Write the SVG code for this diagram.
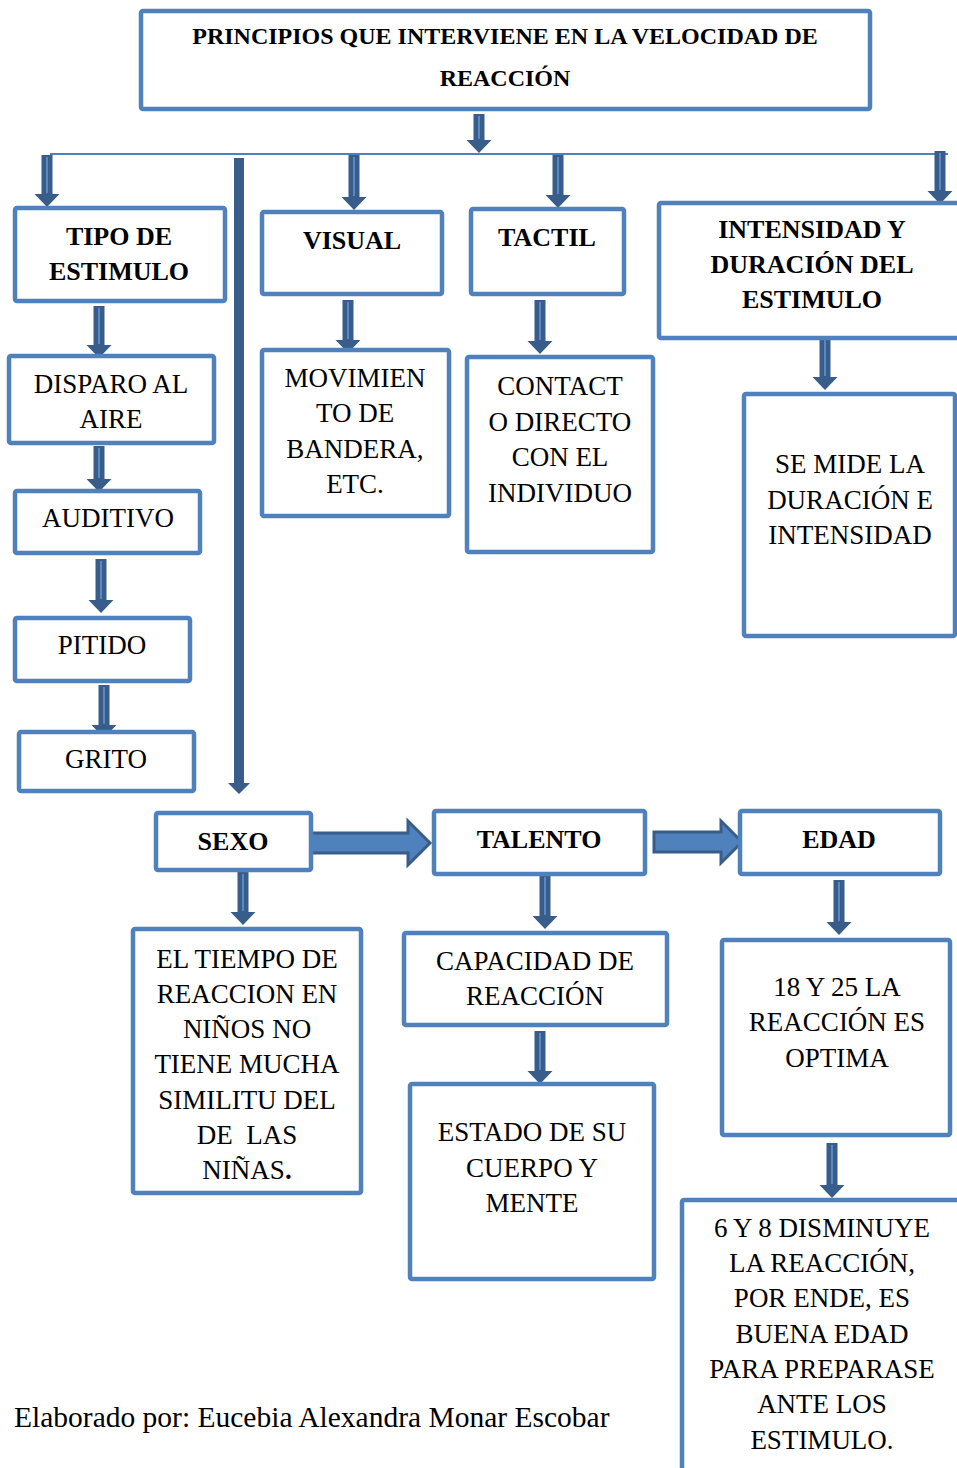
<svg xmlns="http://www.w3.org/2000/svg" width="957" height="1468" viewBox="0 0 957 1468">
<style>
.box{fill:#fff;stroke:#4F81BD;stroke-width:4.5;}
.t{font-family:"Liberation Serif","Times New Roman",serif;font-size:27px;fill:#000;text-anchor:middle;}
.b{font-weight:bold;font-size:26px;}
.da{fill:#385D8A;}
.st{stroke:#5A88C2;stroke-width:2;fill:none;}
.ha{fill:#4F81BD;stroke:#385D8A;stroke-width:3;stroke-linejoin:miter;}
</style>
<rect width="957" height="1468" fill="#fff"/>
<g id="connectors">
<line x1="50" y1="154" x2="948" y2="154" stroke="#4F81BD" stroke-width="2"/>
<path class="da" d="M473.5,114 h11 v26 h7 l-12.5,13 l-12.5,-13 h7 z"/><path class="st" d="M479,116 v23"/>
<path class="da" d="M41.5,155 h11 v39 h7 l-12.5,13 l-12.5,-13 h7 z"/><path class="st" d="M47,157 v36"/>
<path class="da" d="M348.5,155 h11 v42 h7 l-12.5,13 l-12.5,-13 h7 z"/><path class="st" d="M354,157 v39"/>
<path class="da" d="M552.5,155 h11 v40 h7 l-12.5,13 l-12.5,-13 h7 z"/><path class="st" d="M558,157 v37"/>
<path class="da" d="M934.5,151 h11 v40 h7 l-12.5,13 l-12.5,-13 h7 z"/><path class="st" d="M940,153 v37"/>
<path class="da" d="M93.5,306 h11 v39 h7 l-12.5,13 l-12.5,-13 h7 z"/><path class="st" d="M99,308 v36"/>
<path class="da" d="M93.5,446 h11 v33 h7 l-12.5,13 l-12.5,-13 h7 z"/><path class="st" d="M99,448 v30"/>
<path class="da" d="M95.5,559 h11 v41 h7 l-12.5,13 l-12.5,-13 h7 z"/><path class="st" d="M101,561 v38"/>
<path class="da" d="M98.5,685 h11 v40 h7 l-12.5,13 l-12.5,-13 h7 z"/><path class="st" d="M104,687 v37"/>
<path class="da" d="M342.5,300 h11 v40 h7 l-12.5,13 l-12.5,-13 h7 z"/><path class="st" d="M348,302 v37"/>
<path class="da" d="M534.5,300 h11 v41 h7 l-12.5,13 l-12.5,-13 h7 z"/><path class="st" d="M540,302 v38"/>
<path class="da" d="M819.5,338 h11 v39 h7 l-12.5,13 l-12.5,-13 h7 z"/><path class="st" d="M825,340 v36"/>
<path class="da" d="M237.5,872 h11 v40 h7 l-12.5,13 l-12.5,-13 h7 z"/><path class="st" d="M243,874 v37"/>
<path class="da" d="M539.5,875 h11 v41 h7 l-12.5,13 l-12.5,-13 h7 z"/><path class="st" d="M545,877 v38"/>
<path class="da" d="M534.5,1031 h11 v40 h7 l-12.5,13 l-12.5,-13 h7 z"/><path class="st" d="M540,1033 v37"/>
<path class="da" d="M833.5,880 h11 v42 h7 l-12.5,13 l-12.5,-13 h7 z"/><path class="st" d="M839,882 v39"/>
<path class="da" d="M826.5,1143 h11 v42 h7 l-12.5,13 l-12.5,-13 h7 z"/><path class="st" d="M832,1145 v39"/>
<path class="da" d="M234,158 h10 v625 h6 l-11,11 l-11,-11 h6 z"/>
<path class="ha" d="M311,833 H408 V821 L430,843 L408,865 V853 H311 Z"/>
<path class="ha" d="M654,832 H721 V821 L742,842 L721,863 V852 H654 Z"/>
</g>
<g id="title"><rect class="box" x="141" y="11" width="729" height="98" rx="2"/>
<text class="t b" x="505" y="44" style="font-size:24px">PRINCIPIOS QUE INTERVIENE EN LA VELOCIDAD DE</text>
<text class="t b" x="505" y="86" style="font-size:24px">REACCIÓN</text></g>
<g id="tipo"><rect class="box" x="15" y="208" width="210" height="93" rx="2"/>
<text class="t b" x="119" y="245">TIPO DE</text><text class="t b" x="119" y="280">ESTIMULO</text></g>
<g id="visual"><rect class="box" x="262" y="212" width="180" height="82" rx="2"/>
<text class="t b" x="352" y="249">VISUAL</text></g>
<g id="tactil"><rect class="box" x="471" y="209" width="153" height="85" rx="2"/>
<text class="t b" x="547" y="246">TACTIL</text></g>
<g id="intensidad"><rect class="box" x="659" y="203" width="310" height="135" rx="2"/>
<text class="t b" x="812" y="238">INTENSIDAD Y</text><text class="t b" x="812" y="273">DURACIÓN DEL</text><text class="t b" x="812" y="308">ESTIMULO</text></g>
<g id="disparo"><rect class="box" x="9" y="356" width="205" height="87" rx="2"/>
<text class="t" x="111" y="393">DISPARO AL</text><text class="t" x="111" y="428">AIRE</text></g>
<g id="auditivo"><rect class="box" x="15" y="491" width="185" height="62" rx="2"/>
<text class="t" x="108" y="527">AUDITIVO</text></g>
<g id="pitido"><rect class="box" x="15" y="618" width="175" height="63" rx="2"/>
<text class="t" x="102" y="654">PITIDO</text></g>
<g id="grito"><rect class="box" x="19" y="732" width="175" height="59" rx="2"/>
<text class="t" x="106" y="768">GRITO</text></g>
<g id="movimiento"><rect class="box" x="262" y="350" width="187" height="166" rx="2"/>
<text class="t" x="355" y="387">MOVIMIEN</text><text class="t" x="355" y="422">TO DE</text><text class="t" x="355" y="458">BANDERA,</text><text class="t" x="355" y="493">ETC.</text></g>
<g id="contacto"><rect class="box" x="467" y="357" width="186" height="195" rx="2"/>
<text class="t" x="560" y="395">CONTACT</text><text class="t" x="560" y="431">O DIRECTO</text><text class="t" x="560" y="466">CON EL</text><text class="t" x="560" y="502">INDIVIDUO</text></g>
<g id="semide"><rect class="box" x="744" y="394" width="211" height="242" rx="2"/>
<text class="t" x="850" y="473">SE MIDE LA</text><text class="t" x="850" y="509">DURACIÓN E</text><text class="t" x="850" y="544">INTENSIDAD</text></g>
<g id="sexo"><rect class="box" x="156" y="813" width="155" height="57" rx="2"/>
<text class="t b" x="233" y="850">SEXO</text></g>
<g id="talento"><rect class="box" x="434" y="811" width="211" height="63" rx="2"/>
<text class="t b" x="539" y="848">TALENTO</text></g>
<g id="edad"><rect class="box" x="740" y="811" width="200" height="63" rx="2"/>
<text class="t b" x="839" y="848">EDAD</text></g>
<g id="tiempo"><rect class="box" x="133" y="929" width="228" height="264" rx="2"/>
<text class="t" x="247" y="968">EL TIEMPO DE</text><text class="t" x="247" y="1003">REACCION EN</text><text class="t" x="247" y="1038">NIÑOS NO</text><text class="t" x="247" y="1073">TIENE MUCHA</text><text class="t" x="247" y="1109">SIMILITU DEL</text><text class="t" x="247" y="1144" xml:space="preserve">DE  LAS</text><text class="t" x="247" y="1179">NIÑAS<tspan font-weight="bold">.</tspan></text></g>
<g id="capacidad"><rect class="box" x="404" y="933" width="263" height="92" rx="2"/>
<text class="t" x="535" y="970">CAPACIDAD DE</text><text class="t" x="535" y="1005">REACCIÓN</text></g>
<g id="estado"><rect class="box" x="410" y="1084" width="244" height="195" rx="2"/>
<text class="t" x="532" y="1141">ESTADO DE SU</text><text class="t" x="532" y="1177">CUERPO Y</text><text class="t" x="532" y="1212">MENTE</text></g>
<g id="edad18"><rect class="box" x="722" y="940" width="228" height="195" rx="2"/>
<text class="t" x="837" y="996">18 Y 25 LA</text><text class="t" x="837" y="1031">REACCIÓN ES</text><text class="t" x="837" y="1067">OPTIMA</text></g>
<g id="edad6"><rect class="box" x="682" y="1200" width="290" height="300" rx="2"/>
<text class="t" x="822" y="1237">6 Y 8 DISMINUYE</text><text class="t" x="822" y="1272">LA REACCIÓN,</text><text class="t" x="822" y="1307">POR ENDE, ES</text><text class="t" x="822" y="1343">BUENA EDAD</text><text class="t" x="822" y="1378">PARA PREPARASE</text><text class="t" x="822" y="1413">ANTE LOS</text><text class="t" x="822" y="1449">ESTIMULO.</text></g>
<text x="14" y="1427" font-family="Liberation Serif, Times New Roman, serif" font-size="29.5" fill="#000">Elaborado por: Eucebia Alexandra Monar Escobar</text>
</svg>
